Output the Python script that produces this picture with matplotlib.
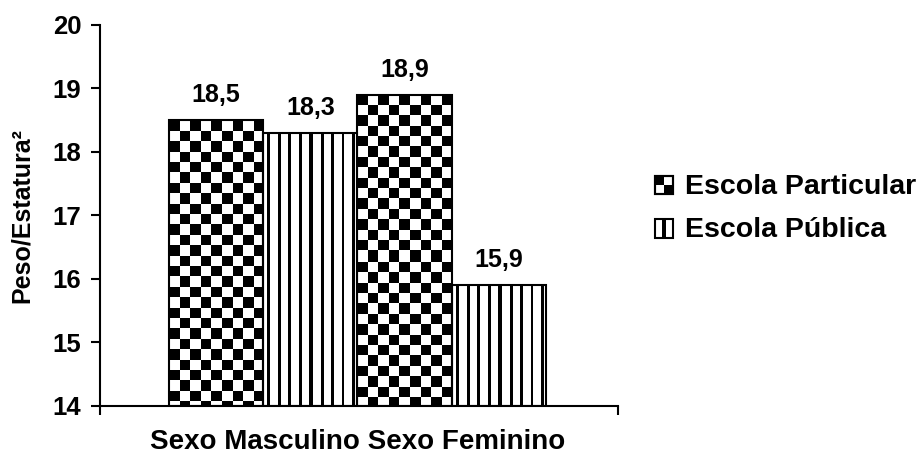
import numpy as np
import matplotlib
matplotlib.use("Agg")
import matplotlib.pyplot as plt
from matplotlib.patches import Rectangle
from matplotlib.legend_handler import HandlerBase

# ---- data ----
categories = ["Sexo Masculino", "Sexo Feminino"]
series_names = ["Escola Particular", "Escola Pública"]
particular = [18.5, 18.9]
publica = [18.3, 15.9]
value_labels_part = ["18,5", "18,9"]
value_labels_pub = ["18,3", "15,9"]
yticks = [14, 15, 16, 17, 18, 19, 20]
ylabel = "Peso/Estatura²"

plt.rcParams["font.family"] = ["Liberation Sans", "DejaVu Sans"]
plt.rcParams["font.weight"] = "bold"

W, H, DPI = 922, 457, 100
fig = plt.figure(figsize=(W / DPI, H / DPI), dpi=DPI)
ax = fig.add_axes([100 / W, (H - 406) / H, 518 / W, (406 - 24.75) / H])

ax.set_ylim(14, 20)
ax.set_xlim(-0.866, 1.882)

bw = 0.5
LW = 1.5

def checker(h, w, cell=10.4):
    yy, xx = np.mgrid[0:h, 0:w]
    return ((np.floor(xx / cell) + np.floor(yy / cell)) % 2 == 0).astype(float)

def stripes(h, w, period=10.45, lw=2.8):
    yy, xx = np.mgrid[0:h, 0:w]
    return (((xx - 4) % period) < lw).astype(float)

fig.canvas.draw()
bars_info = []
for i, cat in enumerate(categories):
    bars_info.append((i - bw / 2, particular[i], value_labels_part[i], checker))
    bars_info.append((i + bw / 2, publica[i], value_labels_pub[i], stripes))

for xc, val, lab, pat in bars_info:
    rects = ax.bar(xc, val - 14, bottom=14, width=bw, facecolor="none",
                   edgecolor="black", linewidth=LW, zorder=3)
    r = rects[0]
    x0, x1 = xc - bw / 2, xc + bw / 2
    p0 = ax.transData.transform((x0, 14))
    p1 = ax.transData.transform((x1, val))
    wpx = int(round(abs(p1[0] - p0[0])))
    hpx = int(round(abs(p1[1] - p0[1])))
    img = pat(hpx, wpx)
    im = ax.imshow(1 - img, cmap="gray", vmin=0, vmax=1, extent=(x0, x1, 14, val),
                   origin="upper", interpolation="nearest", aspect="auto", zorder=2)
    im.set_clip_path(r)
    ax.annotate(lab, xy=(xc, val), xytext=(0, 13), textcoords="offset points",
                ha="center", va="baseline", fontsize=18, fontweight="bold")

ax.set_xlim(-0.866, 1.882)
ax.set_ylim(14, 20)

# spines / ticks
for s in ["top", "right"]:
    ax.spines[s].set_visible(False)
for s in ["left", "bottom"]:
    ax.spines[s].set_linewidth(LW)
ax.set_yticks(yticks)
ax.set_yticklabels([str(t) for t in yticks], fontsize=18.5, fontweight="bold")
ax.tick_params(axis="y", direction="out", length=6.5, width=LW, pad=7)
xl = ax.get_xlim()
ax.set_xticks([xl[0], xl[1]])
ax.set_xticklabels(["", ""])
ax.tick_params(axis="x", direction="out", length=6.5, width=LW)

ax.set_ylabel(ylabel, fontsize=18, fontweight="bold")
ax.yaxis.set_label_coords((34 - 100) / 518, 0.5)

ax.annotate(" ".join(categories), xy=(0.5, 0), xycoords=("data", "axes fraction"),
            xytext=(0, -43 * 0.72), textcoords="offset points",
            ha="center", va="baseline", fontsize=20, fontweight="bold")

# legend with custom icons
class CheckerHandler(HandlerBase):
    def create_artists(self, legend, orig, xd, yd, width, height, fontsize, trans):
        s = min(width, height)
        x0, y0 = xd + 0, yd + (height - s) / 2
        arts = [Rectangle((x0, y0), s, s, facecolor="white", edgecolor="black", lw=LW, transform=trans)]
        h = s / 2
        arts.append(Rectangle((x0, y0 + h), h, h, facecolor="black", edgecolor="none", transform=trans))
        arts.append(Rectangle((x0 + h, y0), h, h, facecolor="black", edgecolor="none", transform=trans))
        arts.append(Rectangle((x0, y0), s, s, facecolor="none", edgecolor="black", lw=LW, transform=trans))
        return arts

class StripeHandler(HandlerBase):
    def create_artists(self, legend, orig, xd, yd, width, height, fontsize, trans):
        s = min(width, height)
        x0, y0 = xd + 0, yd + (height - s) / 2
        arts = [Rectangle((x0, y0), s, s, facecolor="white", edgecolor="black", lw=LW, transform=trans)]
        arts.append(Rectangle((x0 + s * 0.4, y0), s * 0.2, s, facecolor="black", edgecolor="none", transform=trans))
        return arts

h1 = Rectangle((0, 0), 1, 1)
h2 = Rectangle((0, 0), 1, 1)
leg = fig.legend([h1, h2], series_names, loc="center left",
                 bbox_to_anchor=(655 / W, 1 - 208.5 / H), frameon=False,
                 prop={"size": 20.5, "weight": "bold"},
                 handler_map={h1: CheckerHandler(), h2: StripeHandler()},
                 handlelength=0.64, handleheight=0.64, handletextpad=0.42,
                 labelspacing=0.62, borderpad=0, borderaxespad=0)

fig.savefig("out.png", dpi=DPI)
